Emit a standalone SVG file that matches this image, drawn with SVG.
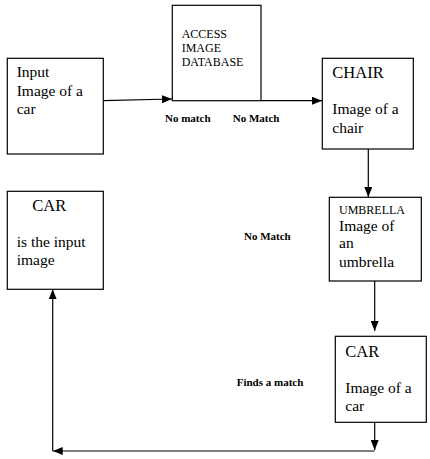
<svg xmlns="http://www.w3.org/2000/svg" width="430" height="459" viewBox="0 0 430 459">
<style>
.box{fill:#fff;stroke:#000;stroke-width:1.2}
.t{font-family:"Liberation Serif",serif;font-size:15.5px;fill:#000}
.h{font-size:16.5px}
.s{font-size:12px}
.lbl{font-family:"Liberation Serif",serif;font-size:11px;font-weight:bold;fill:#000}
.c{stroke:#000;stroke-width:1.2;fill:none}
</style>
<defs>
<marker id="ah" viewBox="0 0 10 8" refX="10" refY="4" markerWidth="10" markerHeight="8" markerUnits="userSpaceOnUse" orient="auto">
<path d="M0,0 L10,4 L0,8 z" fill="#000"/>
</marker>
</defs>
<rect width="430" height="459" fill="#fff"/>
<g id="connectors">
<line class="c" x1="103.3" y1="100.7" x2="172" y2="99" marker-end="url(#ah)"/>
<line class="c" x1="261" y1="100.7" x2="322" y2="100.7" marker-end="url(#ah)"/>
<line class="c" x1="368.3" y1="143" x2="368.3" y2="197" marker-end="url(#ah)"/>
<line class="c" x1="374.7" y1="276" x2="374.7" y2="331" marker-end="url(#ah)"/>
<line class="c" x1="374.7" y1="422.3" x2="374.7" y2="450" marker-end="url(#ah)"/>
<line class="c" x1="374.7" y1="451" x2="52.7" y2="451" marker-end="url(#ah)"/>
<line class="c" x1="52.7" y1="451" x2="52.7" y2="289.3" marker-end="url(#ah)" stroke="#444"/>
</g>
<g id="input">
<rect class="box" x="7.3" y="58.3" width="96" height="95.7"/>
<text class="t" x="16.7" y="77.3">Input</text>
<text class="t" x="16.7" y="95.7">Image of a</text>
<text class="t" x="16.7" y="114">car</text>
</g>
<g id="database">
<rect class="box" x="172.3" y="5.3" width="88.7" height="95.4"/>
<text class="t s" x="181.7" y="37.7">ACCESS</text>
<text class="t s" x="181.7" y="51.7">IMAGE</text>
<text class="t s" x="181.7" y="66.3">DATABASE</text>
</g>
<g id="chair">
<rect class="box" x="322.3" y="58.3" width="91" height="90.7"/>
<text class="t h" x="332.3" y="77.7">CHAIR</text>
<text class="t" x="332.3" y="114.3">Image of a</text>
<text class="t" x="332.3" y="132.7">chair</text>
</g>
<g id="umbrella">
<rect class="box" x="329.3" y="197.3" width="92" height="83.7"/>
<text class="t s" x="339" y="213.7">UMBRELLA</text>
<text class="t" x="339" y="231">Image of</text>
<text class="t" x="339" y="248.3">an</text>
<text class="t" x="339" y="267.3">umbrella</text>
</g>
<g id="car-match">
<rect class="box" x="335.3" y="336.3" width="91" height="86"/>
<text class="t h" x="345.3" y="356.7">CAR</text>
<text class="t" x="345.3" y="393.3">Image of a</text>
<text class="t" x="345.3" y="411.3">car</text>
</g>
<g id="car-result">
<rect class="box" x="7.3" y="191.3" width="96" height="98"/>
<text class="t h" x="32.3" y="210.7">CAR</text>
<text class="t" x="16.7" y="247.3">is the input</text>
<text class="t" x="16.7" y="265.3">image</text>
</g>
<g id="labels">
<text class="lbl" x="165" y="122.3">No match</text>
<text class="lbl" x="232.7" y="122.3">No Match</text>
<text class="lbl" x="244" y="240">No Match</text>
<text class="lbl" x="236.7" y="385.7">Finds a match</text>
</g>
</svg>
